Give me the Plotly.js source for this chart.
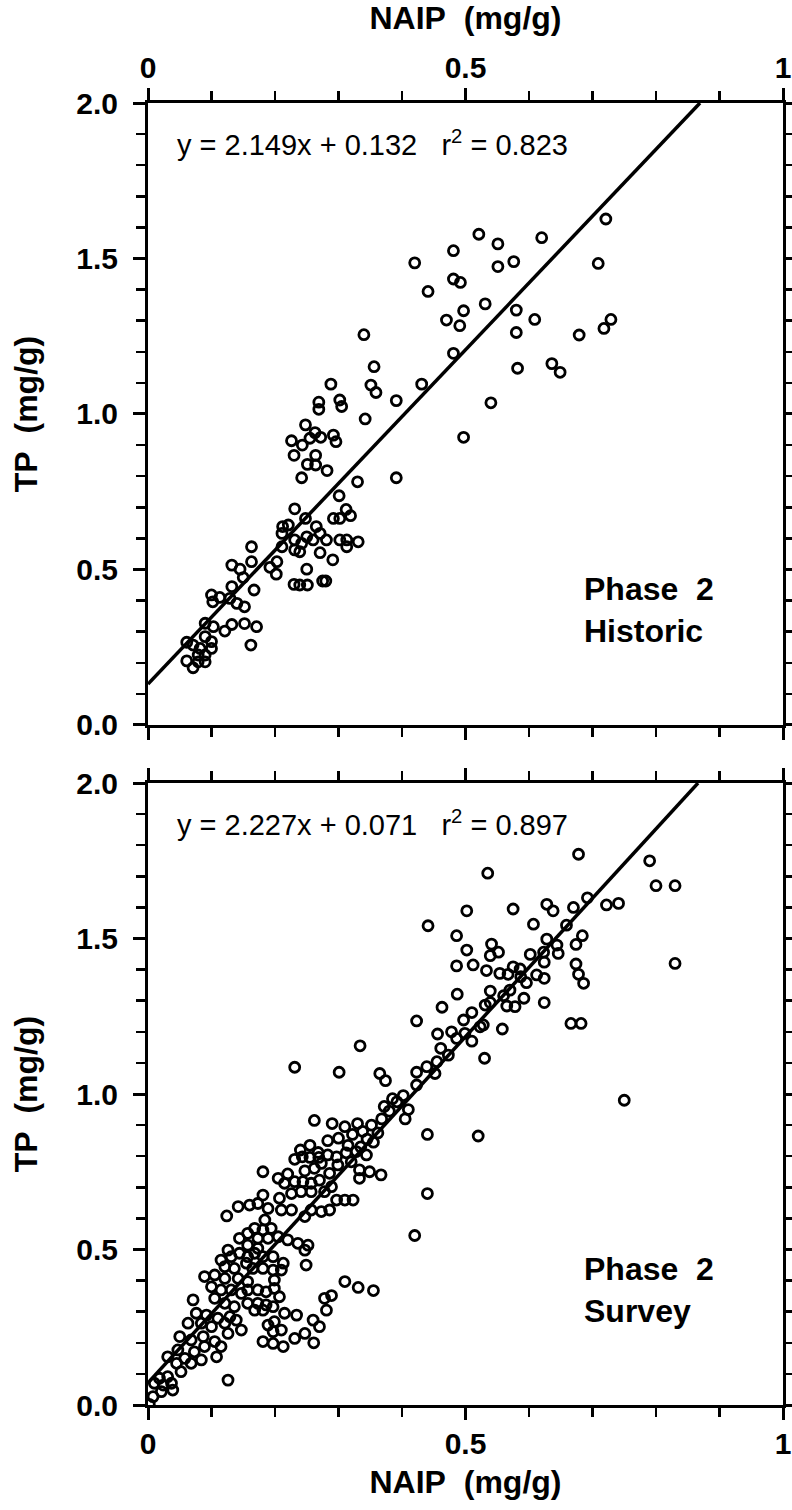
<!DOCTYPE html>
<html>
<head>
<meta charset="utf-8">
<script src="https://cdn.plot.ly/plotly-3.0.1.min.js"></script>
<style>html,body{margin:0;padding:0;background:#fff;}#chart{width:792px;height:1510px;}</style>
</head>
<body>
<div id="chart"></div>
<script>
// ---------- data ----------
var panelNames = ["Historic", "Survey"];
var slopes = [2.149, 2.227];
var intercepts = [0.132, 0.071];
var r2values = [0.823, 0.897];
var xTickVals = [0, 0.5, 1];
var yTickVals = [0, 0.5, 1.0, 1.5, 2.0];

// Phase 2 Historic: NAIP (mg/g)
var historicNAIP = [
0.481,0.420,0.481,0.492,0.441,0.497,0.470,0.491,0.340,0.481,0.356,0.431,0.351,0.359,0.288,0.391,0.269,0.269,0.302,0.305,
0.342,0.497,0.248,0.226,0.243,0.263,0.255,0.272,0.292,0.296,0.230,0.264,0.251,0.264,0.282,0.242,0.330,0.391,0.301,
0.231,0.248,0.292,0.302,0.312,0.319,0.212,0.221,0.211,0.265,0.271,0.250,0.231,0.242,0.260,0.281,0.302,0.313,0.331,0.313,
0.211,0.231,0.239,0.271,0.291,0.163,0.163,0.132,0.145,0.150,0.192,0.203,0.202,0.250,0.230,0.239,0.251,0.275,0.280,0.132,
0.167,0.100,0.102,0.113,0.129,0.140,0.152,0.090,0.103,0.121,0.132,0.152,0.171,0.162,0.061,0.071,0.090,0.100,0.100,0.082,
0.079,0.090,0.061,0.071,0.090,0.079,
0.721,0.521,0.620,0.551,0.551,0.576,0.709,0.531,0.580,0.609,0.729,0.718,0.580,0.679,0.582,0.636,0.649,0.540
];
// Phase 2 Historic: TP (mg/g)
var historicTP = [
1.525,1.486,1.434,1.423,1.394,1.332,1.302,1.284,1.255,1.195,1.152,1.096,1.093,1.069,1.096,1.043,1.038,1.015,1.045,1.024,
0.984,0.925,0.965,0.914,0.900,0.940,0.922,0.925,0.932,0.911,0.867,0.867,0.838,0.836,0.818,0.795,0.782,0.795,0.737,
0.695,0.664,0.664,0.664,0.693,0.673,0.638,0.643,0.616,0.638,0.616,0.605,0.595,0.584,0.595,0.595,0.595,0.595,0.589,0.573,
0.573,0.563,0.557,0.554,0.531,0.573,0.525,0.514,0.501,0.474,0.507,0.525,0.485,0.501,0.452,0.450,0.450,0.463,0.463,0.445,
0.434,0.418,0.396,0.410,0.407,0.391,0.380,0.327,0.316,0.302,0.323,0.326,0.316,0.257,0.266,0.257,0.284,0.268,0.246,0.246,
0.225,0.225,0.206,0.184,0.203,0.203,
1.627,1.578,1.567,1.547,1.474,1.490,1.484,1.354,1.334,1.304,1.304,1.275,1.262,1.254,1.147,1.162,1.134,1.036
];

// Phase 2 Survey: NAIP (mg/g)
var surveyNAIP = [
0.678,0.535,0.502,0.441,0.575,0.628,0.638,0.670,0.692,0.722,0.741,0.607,0.659,0.486,0.502,0.541,0.552,0.539,0.628,0.644,
0.646,0.684,0.674,0.602,0.623,0.624,0.486,0.512,0.533,0.554,0.567,0.575,0.586,0.587,0.596,0.612,0.624,0.674,0.678,0.686,
0.539,0.560,0.570,0.531,0.539,0.565,0.578,0.592,0.624,0.487,0.463,0.423,0.510,0.497,0.528,0.558,0.666,0.682,0.456,0.478,
0.486,0.499,0.510,0.523,0.461,0.473,0.530,0.334,0.231,0.301,0.365,0.374,0.423,0.439,0.455,0.452,0.423,
0.790,0.800,0.830,0.830,0.750,
0.231,0.243,0.255,0.269,0.283,0.297,0.312,0.328,0.344,0.181,0.205,0.220,0.247,0.262,0.273,0.286,0.299,0.320,0.333,0.333,
0.349,0.367,0.215,0.231,0.244,0.257,0.270,0.289,0.226,0.241,0.257,0.278,0.181,0.207,0.297,0.310,0.323,0.142,0.160,0.173,
0.189,0.210,0.226,0.257,0.273,0.286,0.124,0.184,0.247,0.168,0.181,0.194,0.157,0.173,0.144,0.189,0.205,0.220,0.236,0.252,
0.247,0.249,0.157,0.173,0.126,0.131,0.144,0.157,0.168,0.181,0.197,0.213,0.155,0.115,0.121,0.136,0.165,0.181,0.197,0.210,
0.089,0.105,0.121,0.142,0.157,0.199,0.100,0.115,0.131,0.147,0.157,0.173,0.186,0.207,0.199,0.310,0.331,0.355,0.289,0.278,
0.157,0.173,0.186,0.197,0.105,0.071,0.121,0.136,0.168,0.181,0.281,0.215,0.234,0.076,0.092,0.110,0.129,0.260,0.270,0.199,
0.189,0.063,0.084,0.100,0.121,0.139,0.147,0.126,0.197,0.210,0.247,0.231,0.181,0.197,0.213,0.261,0.050,0.068,0.087,0.105,
0.031,0.047,0.058,0.073,0.089,0.108,0.084,0.068,0.045,0.115,0.052,0.031,0.018,0.010,0.024,0.037,0.039,0.021,0.008,0.002,
0.126,
0.240,0.255,0.268,0.283,0.300,0.315,0.322,0.338,0.345,0.352,0.362,0.368,0.380,0.392,0.402,0.385,0.372,0.330,0.310,0.290,
0.262,0.335,0.355,0.410,0.405,0.440,0.520,0.440,0.420
];
// Phase 2 Survey: TP (mg/g)
var surveyTP = [
1.771,1.710,1.589,1.541,1.595,1.610,1.589,1.600,1.631,1.608,1.613,1.546,1.543,1.509,1.463,1.482,1.456,1.445,1.498,1.479,
1.452,1.509,1.481,1.449,1.456,1.424,1.412,1.415,1.397,1.388,1.385,1.409,1.402,1.377,1.358,1.383,1.372,1.418,1.385,1.356,
1.331,1.316,1.334,1.286,1.294,1.283,1.281,1.308,1.294,1.321,1.279,1.235,1.262,1.238,1.222,1.209,1.227,1.227,1.193,1.200,
1.179,1.195,1.170,1.216,1.147,1.125,1.115,1.155,1.086,1.070,1.066,1.043,1.070,1.088,1.104,1.066,1.029,
1.750,1.670,1.670,1.420,0.980,
0.790,0.798,0.796,0.796,0.804,0.798,0.811,0.815,0.804,0.750,0.729,0.743,0.753,0.761,0.777,0.745,0.772,0.782,0.756,0.729,
0.750,0.740,0.713,0.718,0.718,0.713,0.723,0.702,0.680,0.686,0.686,0.686,0.675,0.665,0.659,0.659,0.659,0.638,0.643,0.648,
0.632,0.627,0.627,0.627,0.622,0.627,0.608,0.595,0.606,0.568,0.563,0.568,0.552,0.536,0.536,0.536,0.541,0.531,0.520,0.514,
0.498,0.450,0.514,0.504,0.498,0.477,0.488,0.477,0.488,0.477,0.477,0.456,0.456,0.466,0.445,0.439,0.439,0.439,0.434,0.434,
0.413,0.418,0.407,0.407,0.397,0.402,0.380,0.370,0.370,0.359,0.370,0.370,0.364,0.348,0.375,0.397,0.378,0.368,0.352,0.343,
0.327,0.327,0.322,0.316,0.343,0.338,0.327,0.316,0.305,0.305,0.305,0.295,0.289,0.295,0.289,0.279,0.284,0.273,0.252,0.268,
0.257,0.263,0.263,0.252,0.263,0.273,0.241,0.230,0.236,0.241,0.230,0.214,0.204,0.198,0.188,0.200,0.220,0.209,0.220,0.204,
0.155,0.177,0.150,0.171,0.188,0.155,0.145,0.134,0.134,0.188,0.107,0.091,0.086,0.070,0.064,0.070,0.048,0.043,0.027,0.002,
0.080,
0.820,0.835,0.812,0.850,0.858,0.835,0.870,0.880,0.855,0.900,0.875,0.920,0.945,0.975,0.995,0.985,0.960,0.905,0.895,0.905,
0.915,0.830,0.845,0.950,0.920,0.870,0.865,0.680,0.545
];

// ---------- traces ----------
var markerStyle = {symbol: 'circle-open', size: 10, color: '#000', line: {width: 2.8, color: '#000'}};
var xs = [historicNAIP, surveyNAIP];
var ys = [historicTP, surveyTP];
var axX = ['x', 'x2'], axY = ['y', 'y2'];
var data = [];
for (var i = 0; i < 2; i++) {
  var xEnd = (2 - intercepts[i]) / slopes[i];
  data.push({
    type: 'scatter', mode: 'lines', xaxis: axX[i], yaxis: axY[i],
    x: [0, xEnd], y: [intercepts[i], slopes[i] * xEnd + intercepts[i]],
    line: {color: '#000', width: 3.5}, hoverinfo: 'skip', showlegend: false
  });
  data.push({
    type: 'scatter', mode: 'markers', xaxis: axX[i], yaxis: axY[i],
    x: xs[i], y: ys[i], marker: markerStyle, showlegend: false, cliponaxis: true
  });
}

// ---------- layout ----------
var FONT = 'Liberation Sans, Arial, Helvetica, sans-serif';
var tickFont = {family: FONT, size: 30, weight: 'bold', color: '#000'};
var titleFont = {family: FONT, size: 32, weight: 'bold', color: '#000'};
function mainAxis(extra) {
  var a = {
    showline: true, linewidth: 3, linecolor: '#000',
    ticks: 'outside', ticklen: 12, tickwidth: 3, tickcolor: '#000',
    mirror: 'ticks', showgrid: false, zeroline: false,
    minor: {dtick: 0.1, tick0: 0, ticks: 'outside', ticklen: 9, tickwidth: 2.5, tickcolor: '#000', showgrid: false},
    tickfont: tickFont, ticklabelstandoff: 9, automargin: false
  };
  for (var k in extra) a[k] = extra[k];
  return a;
}
function innerAxis(extra) {
  var a = {
    showline: false, ticks: 'inside', ticklen: 15, tickwidth: 3, tickcolor: '#000',
    mirror: 'ticks', showgrid: false, zeroline: false, showticklabels: false, automargin: false
  };
  for (var k in extra) a[k] = extra[k];
  return a;
}
var topDom = [0.5223, 1], botDom = [0, 0.4777];
var xTitle = 'NAIP\u00a0 (mg/g)', yTitle = 'TP\u00a0 (mg/g)';

var layout = {
  width: 792, height: 1510,
  margin: {l: 148, r: 9, t: 103, b: 105, pad: 0},
  paper_bgcolor: '#fff', plot_bgcolor: 'rgba(0,0,0,0)',
  font: {family: FONT, color: '#000'},
  showlegend: false,
  xaxis: mainAxis({domain: [0, 1], anchor: 'y', side: 'top', range: [0, 1], tickvals: xTickVals,
    ticklabelstandoff: -2, title: {text: xTitle, font: titleFont, standoff: 14}}),
  yaxis: mainAxis({domain: topDom, anchor: 'x', range: [0, 2], tickvals: yTickVals, tickformat: '.1f',
    title: {text: yTitle, font: titleFont, standoff: 30}}),
  xaxis2: mainAxis({domain: [0, 1], anchor: 'y2', side: 'bottom', range: [0, 1], tickvals: xTickVals,
    ticklabelstandoff: -2, title: {text: xTitle, font: titleFont, standoff: 12}}),
  yaxis2: mainAxis({domain: botDom, anchor: 'x2', range: [0, 2], tickvals: yTickVals, tickformat: '.1f',
    title: {text: yTitle, font: titleFont, standoff: 30}}),
  xaxis3: innerAxis({overlaying: 'x', anchor: 'y', side: 'top', range: [0, 1], tickvals: xTickVals}),
  yaxis3: innerAxis({overlaying: 'y', anchor: 'x', side: 'left', range: [0, 2], tickvals: yTickVals}),
  xaxis4: innerAxis({overlaying: 'x2', anchor: 'y2', side: 'bottom', range: [0, 1], tickvals: xTickVals}),
  yaxis4: innerAxis({overlaying: 'y2', anchor: 'x2', side: 'left', range: [0, 2], tickvals: yTickVals}),
  annotations: []
};
var yRefs = ['y domain', 'y2 domain'], xRefs = ['x domain', 'x2 domain'];
for (var j = 0; j < 2; j++) {
  layout.annotations.push({
    xref: xRefs[j], yref: yRefs[j], x: 0.0425, y: 0.936, xanchor: 'left', yanchor: 'middle',
    showarrow: false, align: 'left',
    text: 'y = ' + slopes[j].toFixed(3) + 'x + ' + intercepts[j].toFixed(3) + '\u00a0\u00a0\u00a0r<sup>2</sup> = ' + r2values[j].toFixed(3),
    font: {family: FONT, size: 29, color: '#000'}
  });
  layout.annotations.push({
    xref: xRefs[j], yref: yRefs[j], x: 0.683, y: 0.185, xanchor: 'left', yanchor: 'middle',
    showarrow: false, align: 'left',
    text: 'Phase\u00a0 2<br>' + panelNames[j],
    font: {family: FONT, size: 32, weight: 'bold', color: '#000'}
  });
}

Plotly.newPlot('chart', data, layout, {staticPlot: true, displayModeBar: false});
</script>
</body>
</html>
